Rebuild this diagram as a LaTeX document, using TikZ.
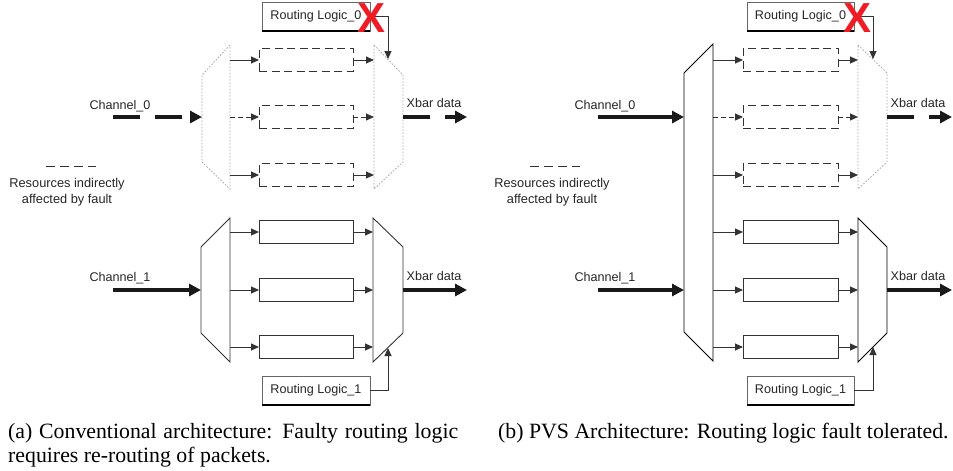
\documentclass[tikz,border=0pt]{standalone}
\usepackage{fontspec}
\setmainfont{Liberation Serif}
\newfontfamily\diagfont{Liberation Sans}
\usetikzlibrary{arrows.meta}
\definecolor{ink}{HTML}{333333}
\definecolor{faded}{HTML}{A8A8A8}
\definecolor{faultred}{HTML}{EE1C25}

\begin{document}
\begin{tikzpicture}[x=1pt,y=-1pt,
  txt/.style={font=\diagfont\fontsize{12.6}{15}\selectfont, inner sep=0, text=black!85},
  buf/.style={draw=ink, line width=0.9pt, minimum width=94pt, minimum height=23pt, inner sep=0, outer sep=0},
  fbuf/.style={buf, dash pattern=on 8pt off 4.5pt},
  logic/.style={draw=ink!75, line width=0.7pt, minimum width=108pt, minimum height=29pt, inner sep=0, outer sep=0, txt},
  feed/.style={draw=ink, line width=1pt, -{Triangle[length=8pt,width=7pt]}},
  ffeed/.style={feed, dash pattern=on 5pt off 3pt},
  bus/.style={draw=black!90, line width=3.3pt, -{Triangle[length=12pt,width=12pt]}},
  fbus/.style={bus, dash pattern=on 27pt off 15pt},
  mux/.style={draw=ink, line width=0.9pt, line join=miter},
  fmux/.style={draw=faded, line width=0.8pt, dash pattern=on 1.6pt off 1.6pt},
  legend/.style={draw=ink, line width=0.9pt, dash pattern=on 9pt off 5pt},
  shadowedge/.style={draw=black, line width=1.6pt},
  cross/.style={text=faultred, font=\diagfont\bfseries\fontsize{42}{42}\selectfont, inner sep=0},
  caption/.style={anchor=base west, inner sep=0, font=\fontsize{21.8}{24}\selectfont},
]
\useasboundingbox (0,0) rectangle (953,471);

% ================= (a) conventional architecture =================
% channel 0 switch (idle: its routing logic is faulty)
\draw[fmux] (230,45) -- (202,75) -- (202,162) -- (230,189) -- cycle;
\draw[fmux] (374,45) -- (403,75) -- (403,162) -- (374,189) -- cycle;
\coordinate (a0src) at (113,117);
\coordinate (a0in)  at (202,117);
\coordinate (a0out) at (403,117);
\coordinate (a0dst) at (467,117);
\foreach \i/\y in {1/60,2/117,3/175}{
  \coordinate (a0s\i) at (230,\y);
  \coordinate (a0m\i) at (374,\y);
  \node[fbuf] (a0b\i) at (306,\y) {};
}
\draw[feed]  (a0s1) -- (a0b1);
\draw[ffeed] (a0s2) -- (a0b2);
\draw[feed]  (a0s3) -- (a0b3);
\draw[feed]  (a0b1) -- (a0m1);
\draw[ffeed] (a0b2) -- (a0m2);
\draw[feed]  (a0b3) -- (a0m3);
\draw[fbus] (a0src) -- (a0in);
\draw[fbus] (a0out) -- (a0dst);
\node[txt] (a0lab) at (120,106) {Channel\_0};
\node[txt] (a0xb) at (434,103) {Xbar data};

% routing logic of channel 0
\node[logic] (a0rl) at (316,16.5) {Routing Logic\_0};
\draw[shadowedge] (a0rl.south west) -- (a0rl.south east);
\coordinate (a0sel) at (388,59);
\draw[feed] (a0rl.east) -| (a0sel);

% legend
\coordinate (aLg1) at (46,166);
\coordinate (aLg2) at (96,166);
\draw[legend] (aLg1) -- (aLg2);
\node[txt, align=center, font=\diagfont\fontsize{12.8}{16}\selectfont] (aLgt) at (67,192)
  {Resources indirectly\\affected by fault};

% channel 1 switch
\draw[mux] (230,218) -- (201,247) -- (201,333) -- (230,362) -- cycle;
\draw[mux] (373,218) -- (403,247) -- (403,333) -- (373,362) -- cycle;
\coordinate (a1src) at (113,290);
\coordinate (a1in)  at (201,290);
\coordinate (a1out) at (403,290);
\coordinate (a1dst) at (467,290);
\foreach \i/\y in {1/232,2/290,3/347}{
  \coordinate (a1s\i) at (230,\y);
  \coordinate (a1m\i) at (373,\y);
  \node[buf] (a1b\i) at (306,\y) {};
  \draw[feed] (a1s\i) -- (a1b\i);
  \draw[feed] (a1b\i) -- (a1m\i);
}
\draw[bus] (a1src) -- (a1in);
\draw[bus] (a1out) -- (a1dst);
\node[txt] (a1lab) at (120,278) {Channel\_1};
\node[txt] (a1xb) at (434,276) {Xbar data};

\node[logic] (a1rl) at (316,390.5) {Routing Logic\_1};
\draw[shadowedge] (a1rl.south west) -- (a1rl.south east);
\coordinate (a1sel) at (388,348);
\draw[feed] (a1rl.east) -| (a1sel);

% fault marker
\node[cross] (a0x) at (372,18.5) {X};

\node[caption] (capa) at (8,438) {\parbox[t]{450pt}{\hyphenpenalty=10000
  (a) Conventional architecture: Faulty routing logic\linebreak
  requires re-routing of packets.}};

% ================= (b) PVS architecture =================
% shared input switch for both channels
\draw[mux, draw=black] (713,44) -- (684,73) -- (684,332) -- (713,361) -- cycle;
\coordinate (b0src) at (598,117);
\coordinate (b0in)  at (684,117);
\coordinate (b1src) at (598,290);
\coordinate (b1in)  at (684,290);
\draw[bus] (b0src) -- (b0in);
\draw[bus] (b1src) -- (b1in);
\node[txt] (b0lab) at (605,106) {Channel\_0};
\node[txt] (b1lab) at (605,278) {Channel\_1};

% channel 0 output switch (idle)
\draw[fmux] (858,45) -- (887,73) -- (887,162) -- (858,189) -- cycle;
\foreach \i/\y in {1/60,2/117,3/175}{
  \coordinate (b0s\i) at (713,\y);
  \coordinate (b0m\i) at (858,\y);
  \node[fbuf, minimum width=95pt] (b0b\i) at (790.5,\y) {};
}
\draw[feed]  (b0s1) -- (b0b1);
\draw[ffeed] (b0s2) -- (b0b2);
\draw[feed]  (b0s3) -- (b0b3);
\draw[feed]  (b0b1) -- (b0m1);
\draw[ffeed] (b0b2) -- (b0m2);
\draw[feed]  (b0b3) -- (b0m3);
\coordinate (b0out) at (887,117);
\coordinate (b0dst) at (952,117);
\draw[fbus] (b0out) -- (b0dst);
\node[txt] (b0xb) at (918,103) {Xbar data};

\node[logic, minimum width=107pt] (b0rl) at (800.5,16.5) {Routing Logic\_0};
\draw[shadowedge] (b0rl.south west) -- (b0rl.south east);
\coordinate (b0sel) at (873,59);
\draw[feed] (b0rl.east) -| (b0sel);

% legend
\coordinate (bLg1) at (530,166);
\coordinate (bLg2) at (580,166);
\draw[legend] (bLg1) -- (bLg2);
\node[txt, align=center, font=\diagfont\fontsize{12.8}{16}\selectfont] (bLgt) at (552,192)
  {Resources indirectly\\affected by fault};

% channel 1 output switch
\draw[mux, draw=black] (858,218) -- (887,247) -- (887,333) -- (858,362) -- cycle;
\foreach \i/\y in {1/232,2/290,3/347}{
  \coordinate (b1s\i) at (713,\y);
  \coordinate (b1m\i) at (858,\y);
  \node[buf, minimum width=95pt] (b1b\i) at (790.5,\y) {};
  \draw[feed] (b1s\i) -- (b1b\i);
  \draw[feed] (b1b\i) -- (b1m\i);
}
\coordinate (b1out) at (887,290);
\coordinate (b1dst) at (952,290);
\draw[bus] (b1out) -- (b1dst);
\node[txt] (b1xb) at (918,276) {Xbar data};

\node[logic, minimum width=107pt] (b1rl) at (800.5,390.5) {Routing Logic\_1};
\draw[shadowedge] (b1rl.south west) -- (b1rl.south east);
\coordinate (b1sel) at (873,347);
\draw[feed] (b1rl.east) -| (b1sel);

\node[cross] (b0x) at (857,18.5) {X};

\node[caption] (capb) at (498,438) {(b) PVS Architecture: Routing logic fault tolerated.};
\end{tikzpicture}
\end{document}
